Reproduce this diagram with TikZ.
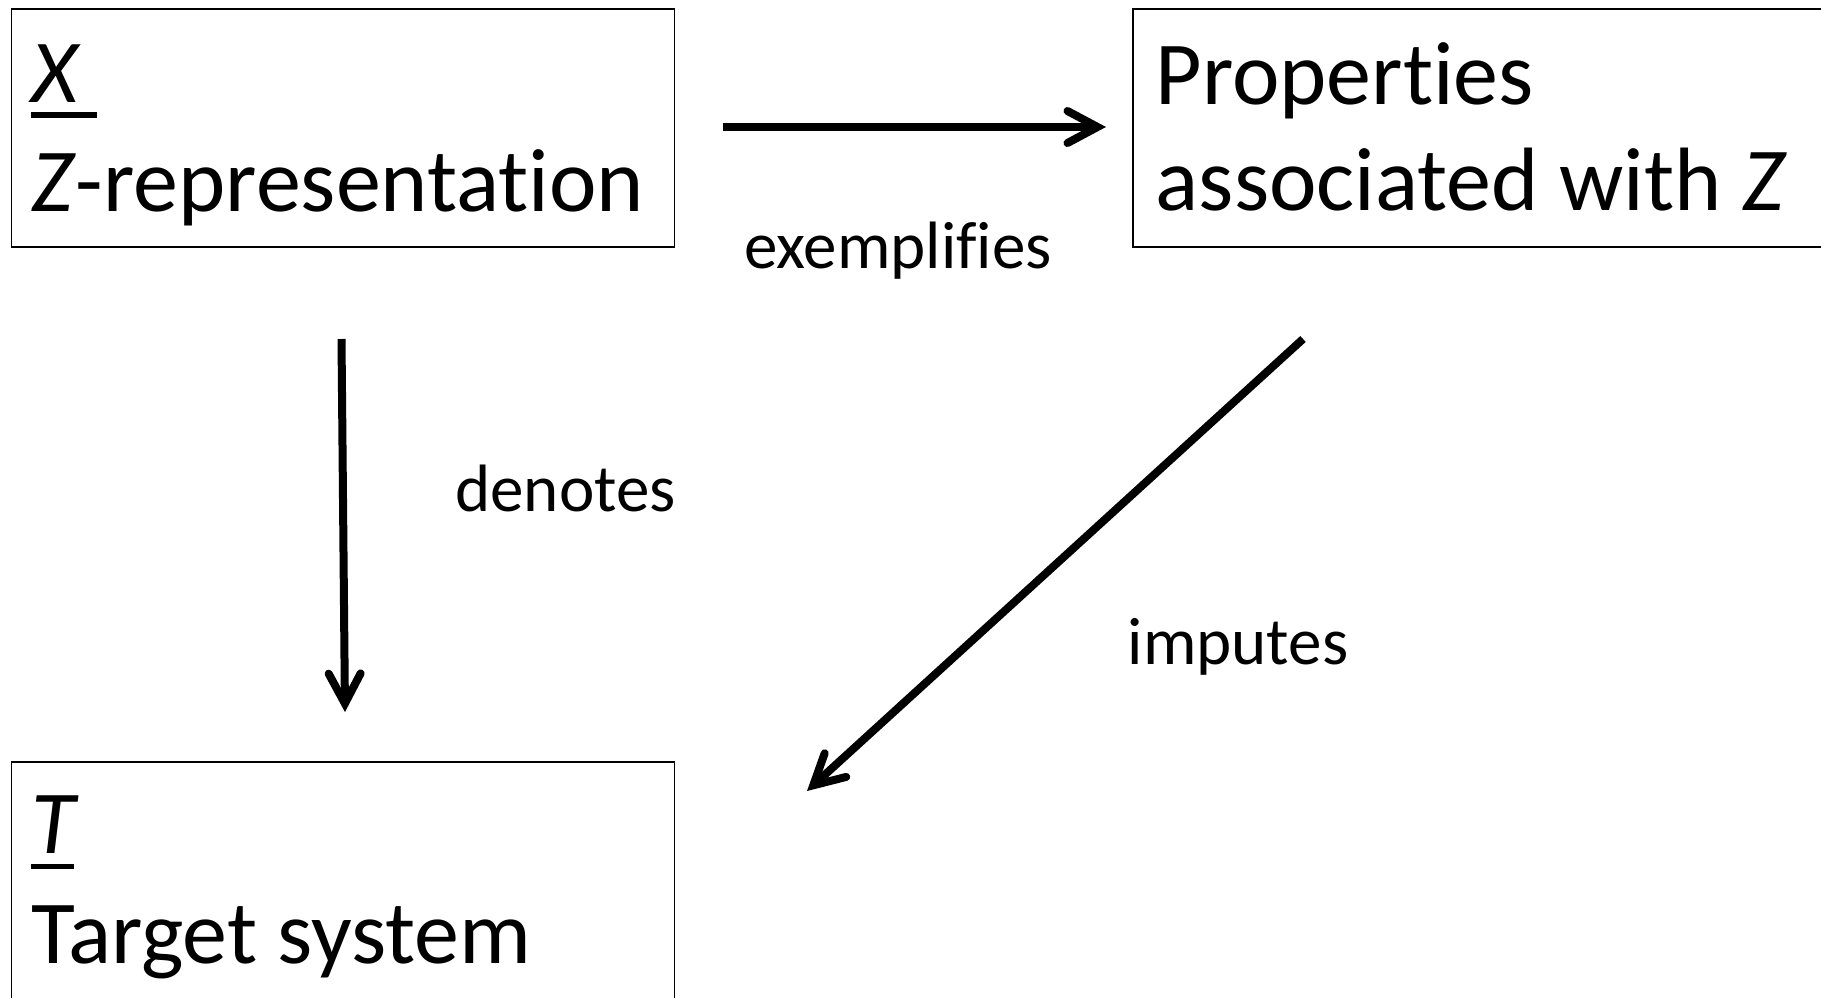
\documentclass[tikz,border=0pt]{standalone}
\usepackage{fontspec}
\setmainfont{Carlito}[Ligatures={NoCommon}]
\usetikzlibrary{arrows.meta}
\newcommand\myul[2]{\makebox[0pt][l]{\rule[-0.175em]{#2}{0.065em}}#1}
\begin{document}
\begin{tikzpicture}[x=1pt,y=-1pt,
  box/.style={draw, line width=1.5pt, anchor=north west, inner sep=0pt},
  big/.style={font=\fontsize{90}{108}\selectfont, anchor=base west, inner sep=0pt},
  small/.style={font=\fontsize{67}{80}\selectfont, anchor=base, inner sep=0pt},
  conn/.style={line width=8pt, line cap=butt,
    -{Straight Barb[length=30pt, width=32pt, line cap=round, line join=miter]}}
]
\useasboundingbox (0,0) rectangle (1821,997);
\fill[white] (0,0) rectangle (1821,997);
% boxes
\node[box, minimum width=663pt, minimum height=238pt] (b1) at (10.5,8) {};
\node[box, minimum width=800pt, minimum height=238pt] (b2) at (1132,8) {};
\node[box, minimum width=663pt, minimum height=300pt] (b3) at (10.5,761) {};
% texts
\node[big] (t1a) at (31,102) {\myul{\textit{X}}{66pt}};
\node[big] (t1b) at (31,211) {\textit{Z}-representation};
\node[big] (t2a) at (1155.6,104.5) {Properties};
\node[big] (t2b) at (1155.6,210) {associated with \textit{Z}};
\node[big] (t3a) at (31,853.6) {\myul{\textit{T}}{43pt}};
\node[big] (t3b) at (31,963) {Target system};
% connector ends
\coordinate (e1s) at (722.7,127);
\coordinate (e1e) at (1106,127);
\coordinate (e2s) at (341.5,339);
\coordinate (e2e) at (345,712);
\coordinate (e3s) at (1303,339);
\coordinate (e3e) at (807,791);
\draw[conn] (e1s) -- (e1e);
\draw[conn] (e2s) -- (e2e);
\draw[conn] (e3s) -- (e3e);
% labels
\node[small] (l1) at (898,268) {exemplifies};
\node[small] (l2) at (565.6,511) {denotes};
\node[small] (l3) at (1238,664) {imputes};
\end{tikzpicture}
\end{document}
